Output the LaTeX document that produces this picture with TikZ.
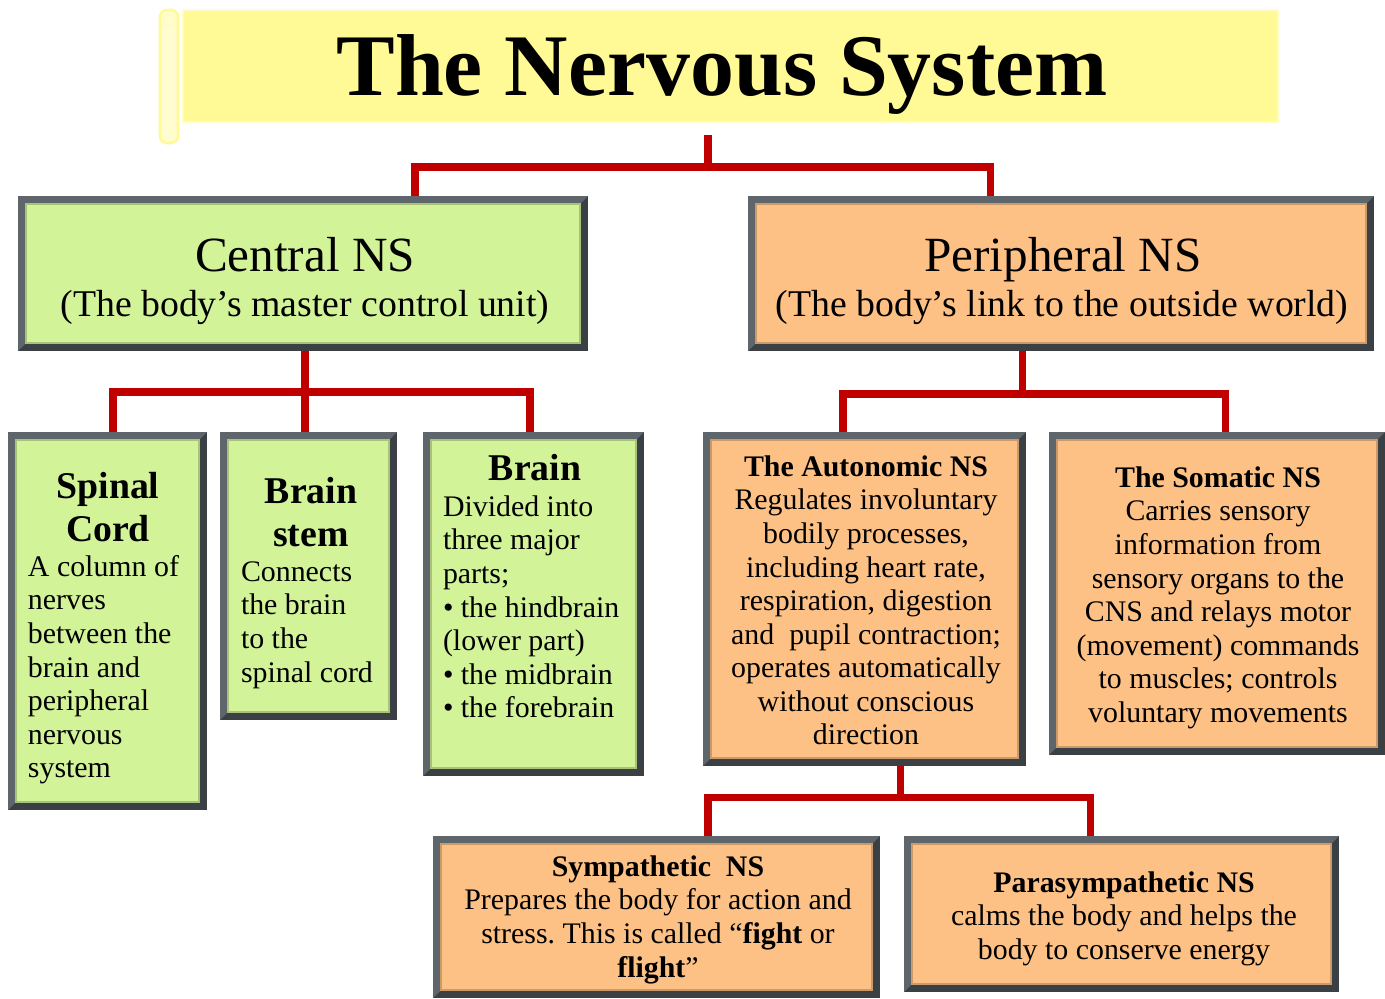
\documentclass[tikz,border=0pt]{standalone}
\usepackage{fontspec}
\setmainfont{Liberation Serif}
\usetikzlibrary{fit,calc}
\definecolor{gfill}{HTML}{D3F399}
\definecolor{pfill}{HTML}{FDC185}
\definecolor{yfill}{HTML}{FFFA96}
\definecolor{frD}{HTML}{3A4044}
\definecolor{frL}{HTML}{5E666B}
\definecolor{lred}{HTML}{C00000}
\newcommand\fbody{\fontsize{17}{19.1}\selectfont}
\newcommand\fhead{\fontsize{21.5}{24.4}\selectfont\bfseries}
\newcommand\sbody{\rule{0pt}{12.75pt}}
\newcommand\shead{\rule{0pt}{16.1pt}}
\def\bw{4.54pt}
\frenchspacing
\begin{document}
\begin{tikzpicture}[x=0.02cm,y=-0.02cm,
  bevelbox/.style={inner sep=0pt, outer sep=0pt, draw=none,
    path picture={
      \fill[frD] (path picture bounding box.south west) rectangle (path picture bounding box.north east);
      \fill[frL] (path picture bounding box.south west) -- (path picture bounding box.north west)
        -- (path picture bounding box.north east) -- ([shift={(-\bw,-\bw)}]path picture bounding box.north east)
        -- ([shift={(\bw,-\bw)}]path picture bounding box.north west) -- ([shift={(\bw,\bw)}]path picture bounding box.south west) -- cycle;
      \fill[#1, draw=#1!80!black, line width=0.8pt] ([shift={(\bw,\bw)}]path picture bounding box.south west) rectangle ([shift={(-\bw,-\bw)}]path picture bounding box.north east);
    }},
  txt/.style={inner sep=0pt, outer sep=0pt, anchor=north, align=center, font=\fbody},
  txtl/.style={inner sep=0pt, outer sep=0pt, anchor=north west, align=left, font=\fbody},
  head/.style={inner sep=0pt, outer sep=0pt, anchor=north, align=center, font=\fhead},
  link/.style={draw=lred, line width=4pt}
]
\useasboundingbox (0,0) rectangle (1385,998);
\fill[white] (0,0) rectangle (1385,998);

% title
\draw[fill=yfill!45!white, draw=yfill, line width=1.5pt, rounded corners=4pt] (160,10) rectangle (178,143);
\draw[draw=yfill!60!white, line width=1pt] (169,21) circle (3.5pt);
\node[fit={(183,10) (1278,122)}, inner sep=0pt, fill=yfill, draw=yfill!50!white, line width=1pt] (title) {};
\node[anchor=base, inner sep=0pt, font=\fontsize{50}{50}\selectfont\bfseries] (title-t) at (722,95) {The Nervous System};

% level 1
\node[bevelbox=gfill, fit={(18,196) (588,351)}] (cns) {};
\node[anchor=base, inner sep=0pt, font=\fontsize{28}{30}\selectfont] (cns-h) at (305,271) {Central NS};
\node[anchor=base, inner sep=0pt, font=\fontsize{21.5}{24}\selectfont] (cns-s) at (305,316) {(The body’s master control unit)};

\node[bevelbox=pfill, fit={(748,196) (1374,351)}] (pns) {};
\node[anchor=base, inner sep=0pt, font=\fontsize{28}{30}\selectfont] (pns-h) at (1063,271) {Peripheral NS};
\node[anchor=base, inner sep=0pt, font=\fontsize{21.5}{24}\selectfont] (pns-s) at (1062,316) {(The body’s link to the outside world)};

% level 2 (CNS)
\node[bevelbox=gfill, fit={(8,432) (207,810)}] (spinal) {};
\node[head] (spinal-h) at (108,470) {\shead Spinal\\Cord};
\node[txtl] (spinal-b) at (28,554) {\sbody A column of\\nerves\\between the\\brain and\\peripheral\\nervous\\system};

\node[bevelbox=gfill, fit={(220,432) (397,720)}] (stem) {};
\node[head] (stem-h) at (311,475) {\shead Brain\\stem};
\node[txtl] (stem-b) at (241,559) {\sbody Connects\\the brain\\to the\\spinal cord};

\node[bevelbox=gfill, fit={(423,432) (644,776)}] (brain) {};
\node[head] (brain-h) at (535,452) {\shead Brain};
\node[txtl] (brain-b) at (443,494) {\sbody Divided into\\three major\\parts;\\• the hindbrain\\(lower part)\\• the midbrain\\• the forebrain};

% level 2 (PNS)
\node[bevelbox=pfill, fit={(703,432) (1026,766)}] (auto) {};
\node[txt] (auto-t) at (866,454) {\sbody\textbf{The Autonomic NS}\\Regulates involuntary\\bodily processes,\\including heart rate,\\respiration, digestion\\and\ \ pupil contraction;\\operates automatically\\without conscious\\direction};

\node[bevelbox=pfill, fit={(1049,432) (1385,755)}] (soma) {};
\node[txt] (soma-t) at (1218,465) {\sbody\textbf{The Somatic NS}\\Carries sensory\\information from\\sensory organs to the\\CNS and relays motor\\(movement) commands\\to muscles; controls\\voluntary movements};

% level 3
\node[bevelbox=pfill, fit={(433,836) (880,998)}] (symp) {};
\node[txt] (symp-t) at (658,854) {\sbody\textbf{Sympathetic\ \ NS}\\Prepares the body for action and\\stress. This is called “\textbf{fight} or\\\textbf{flight}”};

\node[bevelbox=pfill, fit={(904,836) (1339,992)}] (para) {};
\node[txt] (para-t) at (1124,870) {\sbody\textbf{Parasympathetic NS}\\calms the body and helps the\\body to conserve energy};

% connectors
\coordinate (t0) at (708,135);
\coordinate (j0) at (708,167);
\draw[link] (t0) -- (j0);
\draw[link] (415,0 |- cns.north) |- (j0) -| (990,0 |- pns.north);

\coordinate (j1) at (305,392);
\draw[link] (305,0 |- cns.south) -- (j1);
\draw[link] (113,0 |- spinal.north) |- (j1) -| (530,0 |- brain.north);
\draw[link] (j1) -- (305,0 |- stem.north);

\coordinate (j2) at (1022,394);
\draw[link] (1022,0 |- pns.south) -- (j2);
\draw[link] (843,0 |- auto.north) |- (j2) -| (1225,0 |- soma.north);

\coordinate (j3) at (900,797);
\draw[link] (900,0 |- auto.south) -- (j3);
\draw[link] (708,0 |- symp.north) |- (j3) -| (1090,0 |- para.north);
\end{tikzpicture}
\end{document}
